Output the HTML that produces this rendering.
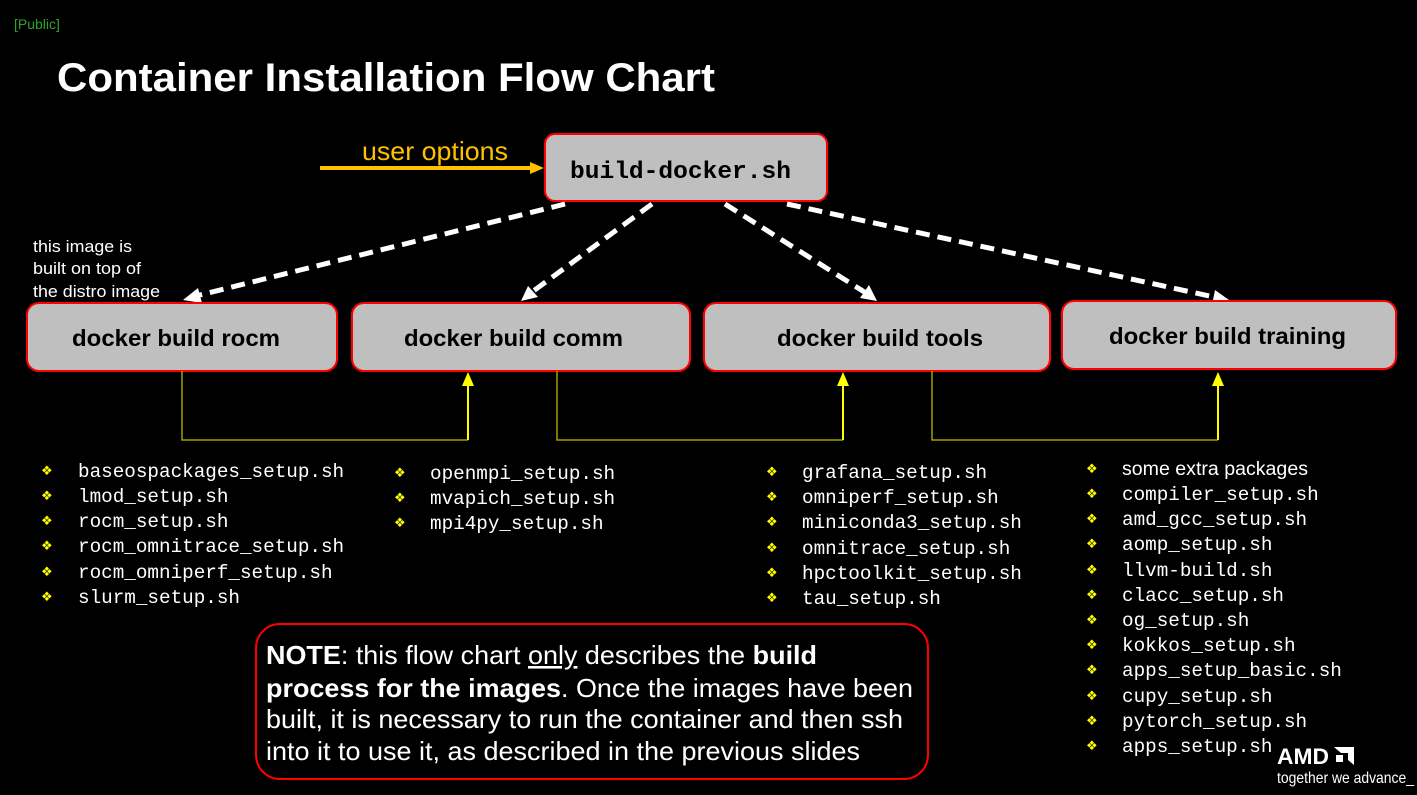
<!DOCTYPE html>
<html><head><meta charset="utf-8"><style>
html,body{margin:0;padding:0;background:#000;}
svg{display:block}
.m{font-family:"Liberation Mono",monospace;font-size:19.3px;fill:#fff;}
.b{fill:#ffff00;font-family:"DejaVu Sans",sans-serif;font-size:13px;}
</style></head><body>
<svg width="1417" height="795" viewBox="0 0 1417 795" xmlns="http://www.w3.org/2000/svg">
<rect width="1417" height="795" fill="#000"/>
<text x="14" y="29" font-family="Liberation Sans,sans-serif" font-size="14" fill="#2aa52a">[Public]</text>
<text x="57" y="91" font-family="Liberation Sans,sans-serif" font-size="40" font-weight="bold" fill="#fff" textLength="658" lengthAdjust="spacingAndGlyphs">Container Installation Flow Chart</text>

<text x="362" y="160" font-family="Liberation Sans,sans-serif" font-size="26" fill="#ffc000" textLength="146" lengthAdjust="spacingAndGlyphs">user options</text>
<line x1="320" y1="168" x2="532" y2="168" stroke="#ffc000" stroke-width="4"/>
<path d="M530,162 L544,168 L530,174 z" fill="#ffc000"/>

<rect x="545" y="134" width="282" height="67" rx="10" fill="#bfbfbf" stroke="#f00" stroke-width="2"/>
<text x="570" y="178" font-family="Liberation Mono,monospace" font-size="24" font-weight="bold" fill="#000" textLength="221" lengthAdjust="spacingAndGlyphs">build-docker.sh</text>

<g stroke="#fff" stroke-width="5" stroke-dasharray="14,8" fill="none">
<line x1="565" y1="204" x2="196" y2="296"/>
<line x1="652" y1="204" x2="532" y2="292"/>
<line x1="725" y1="204" x2="866" y2="293"/>
<line x1="787" y1="204" x2="1214" y2="297"/>
</g>
<g fill="#fff">
<path d="M183,300 L198,288 L202,303 z"/>
<path d="M521,301 L528,286 L538,297 z"/>
<path d="M877,301 L860,298 L869,285 z"/>
<path d="M1229,300 L1212,305 L1215,290 z"/>
</g>

<g font-family="Liberation Sans,sans-serif" font-size="17" fill="#fff">
<text x="33" y="252" textLength="99" lengthAdjust="spacingAndGlyphs">this image is</text>
<text x="33" y="274" textLength="108" lengthAdjust="spacingAndGlyphs">built on top of</text>
<text x="33" y="297" textLength="127" lengthAdjust="spacingAndGlyphs">the distro image</text>
</g>

<g fill="#bfbfbf" stroke="#f00" stroke-width="2">
<rect x="27" y="303" width="310" height="68" rx="12"/>
<rect x="352" y="303" width="338" height="68" rx="12"/>
<rect x="704" y="303" width="346" height="68" rx="12"/>
<rect x="1062" y="301" width="334" height="68" rx="12"/>
</g>
<g font-family="Liberation Sans,sans-serif" font-size="23" font-weight="bold" fill="#000">
<text x="72" y="346" textLength="208" lengthAdjust="spacingAndGlyphs">docker build rocm</text>
<text x="404" y="346" textLength="219" lengthAdjust="spacingAndGlyphs">docker build comm</text>
<text x="777" y="346" textLength="206" lengthAdjust="spacingAndGlyphs">docker build tools</text>
<text x="1109" y="344" textLength="237" lengthAdjust="spacingAndGlyphs">docker build training</text>
</g>

<g stroke="#a0a000" stroke-width="1.5" fill="none">
<polyline points="182,371 182,440 468,440"/>
<polyline points="557,371 557,440 843,440"/>
<polyline points="932,371 932,440 1218,440"/>
</g>
<g stroke="#ffff00" stroke-width="2">
<line x1="468" y1="440" x2="468" y2="384"/>
<line x1="843" y1="440" x2="843" y2="384"/>
<line x1="1218" y1="440" x2="1218" y2="384"/>
</g>
<g fill="#ffff00">
<path d="M462,386 L468,372 L474,386 z"/>
<path d="M837,386 L843,372 L849,386 z"/>
<path d="M1212,386 L1218,372 L1224,386 z"/>
</g>

<g class="m">
<text x="78" y="477">baseospackages_setup.sh</text>
<text x="78" y="502">lmod_setup.sh</text>
<text x="78" y="527">rocm_setup.sh</text>
<text x="78" y="552">rocm_omnitrace_setup.sh</text>
<text x="78" y="578">rocm_omniperf_setup.sh</text>
<text x="78" y="603">slurm_setup.sh</text>

<text x="430" y="479">openmpi_setup.sh</text>
<text x="430" y="504">mvapich_setup.sh</text>
<text x="430" y="529">mpi4py_setup.sh</text>

<text x="802" y="478">grafana_setup.sh</text>
<text x="802" y="503">omniperf_setup.sh</text>
<text x="802" y="528">miniconda3_setup.sh</text>
<text x="802" y="554">omnitrace_setup.sh</text>
<text x="802" y="579">hpctoolkit_setup.sh</text>
<text x="802" y="604">tau_setup.sh</text>

<text x="1122" y="475" font-family="Liberation Sans,sans-serif" textLength="186" lengthAdjust="spacingAndGlyphs">some extra packages</text>
<text x="1122" y="500">compiler_setup.sh</text>
<text x="1122" y="525">amd_gcc_setup.sh</text>
<text x="1122" y="550">aomp_setup.sh</text>
<text x="1122" y="576">llvm-build.sh</text>
<text x="1122" y="601">clacc_setup.sh</text>
<text x="1122" y="626">og_setup.sh</text>
<text x="1122" y="651">kokkos_setup.sh</text>
<text x="1122" y="676">apps_setup_basic.sh</text>
<text x="1122" y="702">cupy_setup.sh</text>
<text x="1122" y="727">pytorch_setup.sh</text>
<text x="1122" y="752">apps_setup.sh</text>
</g>
<g class="b">
<text x="41" y="475">❖</text><text x="41" y="500">❖</text><text x="41" y="525">❖</text><text x="41" y="550">❖</text><text x="41" y="576">❖</text><text x="41" y="601">❖</text>
<text x="394" y="477">❖</text><text x="394" y="502">❖</text><text x="394" y="527">❖</text>
<text x="766" y="476">❖</text><text x="766" y="501">❖</text><text x="766" y="526">❖</text><text x="766" y="552">❖</text><text x="766" y="577">❖</text><text x="766" y="602">❖</text>
<text x="1086" y="473">❖</text><text x="1086" y="498">❖</text><text x="1086" y="523">❖</text><text x="1086" y="548">❖</text><text x="1086" y="574">❖</text><text x="1086" y="599">❖</text><text x="1086" y="624">❖</text><text x="1086" y="649">❖</text><text x="1086" y="674">❖</text><text x="1086" y="700">❖</text><text x="1086" y="725">❖</text><text x="1086" y="750">❖</text>
</g>

<rect x="256" y="624" width="672" height="155" rx="24" fill="#000" stroke="#f00" stroke-width="2"/>
<g font-family="Liberation Sans Narrow,Liberation Sans,sans-serif" font-size="26" fill="#fff">
<text x="266" y="664" textLength="551" lengthAdjust="spacingAndGlyphs"><tspan font-weight="bold">NOTE</tspan>: this flow chart <tspan text-decoration="underline">only</tspan> describes the <tspan font-weight="bold">build</tspan></text>
<text x="266" y="697" textLength="647" lengthAdjust="spacingAndGlyphs"><tspan font-weight="bold">process for the images</tspan>. Once the images have been</text>
<text x="266" y="728" textLength="637" lengthAdjust="spacingAndGlyphs">built, it is necessary to run the container and then ssh</text>
<text x="266" y="760" textLength="594" lengthAdjust="spacingAndGlyphs">into it to use it, as described in the previous slides</text>
</g>

<text x="1277" y="764" font-family="Liberation Sans,sans-serif" font-size="22" font-weight="bold" fill="#fff" textLength="52" lengthAdjust="spacingAndGlyphs">AMD</text>
<path d="M1334,747 L1354,747 L1354,765 L1348,760 L1348,753 L1341,753 z M1336,755 L1343,755 L1343,762 L1336,762 z" fill="#fff"/>
<text x="1277" y="783" font-family="Liberation Sans Narrow,Liberation Sans,sans-serif" font-size="16" fill="#fff" textLength="137" lengthAdjust="spacingAndGlyphs">together we advance_</text>
</svg>
</body></html>
